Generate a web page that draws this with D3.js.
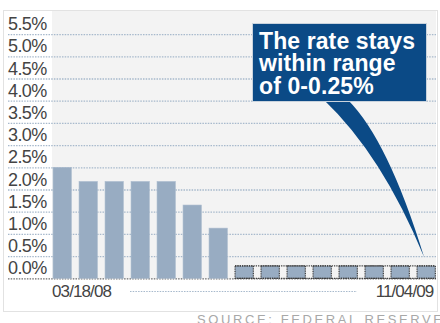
<!DOCTYPE html>
<html>
<head>
<meta charset="utf-8">
<script src="https://cdn.jsdelivr.net/npm/d3@7"></script>
<style>
  body { margin: 0; background: #fff; }
  svg { display: block; font-family: "Liberation Sans", Arial, sans-serif; }
</style>
</head>
<body>
<script>
// FOMC meeting dates shown as bars
const meetings = ["03/18/08", "04/30/08", "06/25/08", "08/05/08", "09/16/08", "10/08/08", "10/29/08",
                  "12/16/08", "01/28/09", "03/18/09", "04/29/09", "06/24/09", "08/12/09", "09/23/09", "11/04/09"];
// single target rate (percent)
const target = [2.5, 2.18, 2.18, 2.18, 2.18, 1.65, 1.13, null, null, null, null, null, null, null, null];
// target range (percent) once the rate becomes a band
const rangeLow  = [null, null, null, null, null, null, null, 0, 0, 0, 0, 0, 0, 0, 0];
const rangeHigh = [null, null, null, null, null, null, null, 0.28, 0.28, 0.28, 0.28, 0.28, 0.28, 0.28, 0.28];
const yTicks = [0, 0.5, 1, 1.5, 2, 2.5, 3, 3.5, 4, 4.5, 5, 5.5];
const xLabels = ["03/18/08", "11/04/09"];

const width = 440;
const height = 323;

const svg = d3.select('body')
    .append('svg')
    .attr('width', width)
    .attr('height', height);

// frame + plot background
svg.append('rect')
    .attr('x', 3.5).attr('y', 10.5)
    .attr('width', 434).attr('height', 301)
    .attr('fill', '#fff')
    .attr('stroke', '#e2e2e2');
svg.append('rect')
    .attr('x', 52).attr('y', 11)
    .attr('width', 384).attr('height', 268)
    .attr('fill', '#f3f3f3');

const x = d3.scaleBand()
    .domain(meetings)
    .range([49.2, 439.2])
    .paddingInner(0.296)
    .paddingOuter(0.148);

const y = d3.scaleLinear()
    .domain([0, 5.5])
    .range([278.3, 34.1]);

// gridlines with labels sitting on top of each line
const yAxis = svg.append('g')
    .attr('transform', 'translate(8,0)')
    .call(d3.axisRight(y)
        .tickValues(yTicks)
        .tickSize(428)
        .tickFormat(d => d.toFixed(1) + '%'));
yAxis.select('.domain').remove();
yAxis.selectAll('.tick line')
    .attr('stroke', d => d === 0 ? '#6d6d6d' : '#a7b9cc')
    .attr('stroke-width', 1.3)
    .attr('stroke-dasharray', '1.5,1.2');
yAxis.selectAll('.tick text')
    .attr('x', 0)
    .attr('dy', -4.5)
    .attr('text-anchor', 'start')
    .attr('fill', '#444')
    .style('font-size', '18px')
    .style('letter-spacing', '-0.6px');

// bars
svg.append('g')
    .selectAll('rect')
    .data(meetings.filter((d, i) => target[i] !== null))
    .join('rect')
    .attr('x', d => x(d))
    .attr('width', x.bandwidth())
    .attr('y', d => y(target[meetings.indexOf(d)]))
    .attr('height', d => y(0) - y(target[meetings.indexOf(d)]))
    .attr('fill', '#98acc2')
    .attr('stroke', '#aabbce')
    .attr('stroke-width', 0.6);

// range boxes
const rangeDates = meetings.filter((d, i) => rangeHigh[i] !== null);
svg.append('g')
    .selectAll('rect')
    .data(rangeDates)
    .join('rect')
    .attr('x', d => x(d))
    .attr('width', x.bandwidth())
    .attr('y', d => y(rangeHigh[meetings.indexOf(d)]))
    .attr('height', d => y(rangeLow[meetings.indexOf(d)]) - y(rangeHigh[meetings.indexOf(d)]))
    .attr('fill', '#98acc2')
    .attr('stroke', '#3e3e3e')
    .attr('stroke-width', 1.2)
    .attr('stroke-dasharray', '1.3,1');

const r0 = x(rangeDates[0]);
const r1 = x(rangeDates[rangeDates.length - 1]) + x.bandwidth();
[rangeHigh[7], rangeLow[7]].forEach(v => {
    svg.append('line')
        .attr('x1', r0).attr('x2', r1)
        .attr('y1', y(v)).attr('y2', y(v))
        .attr('stroke', '#3e3e3e')
        .attr('stroke-width', 1.2)
        .attr('stroke-dasharray', '1.3,1');
});

// first / last date labels
const xAxis = svg.append('g')
    .attr('transform', 'translate(0,282)')
    .call(d3.axisBottom(x).tickValues(xLabels).tickSize(0).tickPadding(0));
xAxis.select('.domain').remove();
xAxis.selectAll('.tick text')
    .attr('y', 14.5)
    .attr('dy', 0)
    .attr('x', (d, i) => i === 0 ? -x.bandwidth() / 2 - 1 : x.bandwidth() / 2 - 2)
    .attr('text-anchor', (d, i) => i === 0 ? 'start' : 'end')
    .attr('fill', '#444')
    .style('font-size', '17px')
    .style('letter-spacing', '-0.9px');

svg.append('line')
    .attr('x1', 130).attr('x2', 357)
    .attr('y1', 291.5).attr('y2', 291.5)
    .attr('stroke', '#a7b9cc')
    .attr('stroke-width', 1.2)
    .attr('stroke-dasharray', '1.5,1.2');

// callout
const tip = [x(meetings[14]) + 7, y(0.48)];
svg.append('path')
    .attr('d', `M324,100 Q382,155 ${tip[0]},${tip[1]} Q388,140 348,100 Z`)
    .attr('fill', '#0b4a86');
svg.append('rect')
    .attr('x', 252.5).attr('y', 23.5)
    .attr('width', 174).attr('height', 78)
    .attr('fill', '#0b4a86')
    .attr('stroke', '#c9d3dd')
    .attr('stroke-width', 1);

const note = ["The rate stays", "within range", "of 0-0.25%"];
svg.append('g')
    .selectAll('text')
    .data(note)
    .join('text')
    .attr('x', 259)
    .attr('y', (d, i) => 48.5 + i * 22.5)
    .attr('fill', '#fff')
    .attr('font-weight', 'bold')
    .style('font-size', '23px')
    .style('letter-spacing', '0.1px')
    .text(d => d);

svg.append('text')
    .attr('x', 197)
    .attr('y', 324)
    .attr('fill', '#a8a8a8')
    .style('font-size', '13px')
    .style('letter-spacing', '2.6px')
    .text('SOURCE: FEDERAL RESERVE');
</script>
</body>
</html>
